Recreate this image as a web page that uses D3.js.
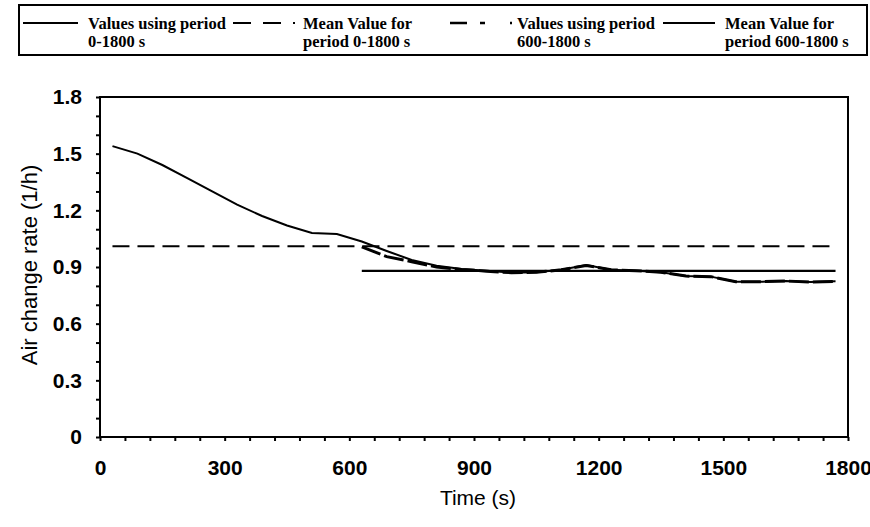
<!DOCTYPE html>
<html>
<head>
<meta charset="utf-8">
<script src="https://cdn.jsdelivr.net/npm/d3@7"></script>
<style>
  body { margin: 0; background: #fff; }
  svg { display: block; }
</style>
</head>
<body>
<div id="chart"></div>
<script>
// time (s) of each sample
var times = [30, 90, 150, 210, 270, 330, 390, 450, 510, 570, 630, 690, 750, 810, 870,
  930, 990, 1050, 1110, 1170, 1230, 1290, 1350, 1410, 1470, 1530, 1590, 1650, 1710, 1770];
// air change rate using period 0-1800 s
var valuesAll = [1.54, 1.50, 1.44, 1.37, 1.30, 1.23, 1.17, 1.12, 1.08, 1.075, 1.035, 0.985,
  0.937, 0.907, 0.89, 0.88, 0.87, 0.872, 0.885, 0.91, 0.885, 0.88, 0.872, 0.852, 0.849,
  0.822, 0.822, 0.826, 0.82, 0.824];

// air change rate using period 600-1800 s
var times600 = [630, 690, 750, 810, 870, 930, 990, 1050, 1110, 1170, 1230, 1290, 1350,
  1410, 1470, 1530, 1590, 1650, 1710, 1770];
var values600 = [1.007, 0.955, 0.928, 0.90, 0.887, 0.878, 0.87, 0.872, 0.885, 0.908, 0.885,
  0.88, 0.872, 0.852, 0.849, 0.822, 0.822, 0.826, 0.82, 0.824];

// mean values
var meanAll = 1.01, meanAllRange = [30, 1770];
var mean600 = 0.88, mean600Range = [630, 1770];

// axis ticks
var xTicks = [0, 300, 600, 900, 1200, 1500, 1800];
var xTickLabels = ["0", "300", "600", "900", "1200", "1500", "1800"];
var yTicks = [0, 0.3, 0.6, 0.9, 1.2, 1.5, 1.8];
var yTickLabels = ["0", "0.3", "0.6", "0.9", "1.2", "1.5", "1.8"];

// legend
var legendLine1 = ["Values using period", "Mean Value for", "Values using period", "Mean Value for"];
var legendLine2 = ["0-1800 s", "period 0-1800 s", "600-1800 s", "period 600-1800 s"];

var W = 870, H = 527;
var svg = d3.select("#chart").append("svg").attr("width", W).attr("height", H);

// plot area
var pLeft = 100, pRight = 848, pTop = 97, pBottom = 437;
var x = d3.scaleLinear().domain([0, 1800]).range([pLeft, pRight]);
var y = d3.scaleLinear().domain([0, 1.8]).range([pBottom, pTop]);

var tickFont = "'Liberation Sans', Arial, sans-serif";

//minor ticks
svg.append("g")
  .attr("transform", "translate(" + pLeft + ",0)")
  .call(d3.axisLeft(y).tickValues(d3.range(0, 1.85, 0.1)).tickSize(4).tickFormat(""))
  .call(g => g.select(".domain").remove())
  .selectAll("line").attr("stroke", "#000").attr("stroke-width", 2);

svg.append("g")
  .attr("transform", "translate(0," + pBottom + ")")
  .call(d3.axisBottom(x).tickValues(d3.range(0, 1801, 60)).tickSize(4).tickFormat(""))
  .call(g => g.select(".domain").remove())
  .selectAll("line").attr("stroke", "#000").attr("stroke-width", 2);

//major tick labels
var yAxis = svg.append("g")
  .attr("transform", "translate(" + pLeft + ",0)")
  .call(d3.axisLeft(y).tickValues(yTicks).tickSize(0).tickPadding(18)
    .tickFormat((d, i) => yTickLabels[i]));
yAxis.select(".domain").remove();
yAxis.selectAll("text")
  .attr("font-family", tickFont).attr("font-weight", "bold").attr("font-size", 21)
  .attr("fill", "#000");

var xAxis = svg.append("g")
  .attr("transform", "translate(0," + pBottom + ")")
  .call(d3.axisBottom(x).tickValues(xTicks).tickSize(0).tickPadding(23)
    .tickFormat((d, i) => xTickLabels[i]));
xAxis.select(".domain").remove();
xAxis.selectAll("text")
  .attr("font-family", tickFont).attr("font-weight", "bold").attr("font-size", 21)
  .attr("fill", "#000");

// frame
svg.append("rect")
  .attr("x", pLeft).attr("y", pTop)
  .attr("width", pRight - pLeft).attr("height", pBottom - pTop)
  .attr("fill", "none").attr("stroke", "#000").attr("stroke-width", 2);

// axis titles
var titleFont = "'Liberation Sans', Arial, sans-serif";
svg.append("text")
  .attr("transform", "translate(37,265) rotate(-90)")
  .attr("text-anchor", "middle")
  .attr("font-family", titleFont).attr("font-size", 22)
  .text("Air change rate (1/h)");
svg.append("text")
  .attr("x", 478).attr("y", 505)
  .attr("text-anchor", "middle")
  .attr("font-family", titleFont).attr("font-size", 21)
  .text("Time (s)");

// lines
var line = d3.line().x(d => x(d[0])).y(d => y(d[1]));

svg.append("path")
  .datum([[meanAllRange[0], meanAll], [meanAllRange[1], meanAll]])
  .attr("d", line).attr("fill", "none").attr("stroke", "#000")
  .attr("stroke-width", 2).attr("stroke-dasharray", "17,8");

svg.append("path")
  .datum([[mean600Range[0], mean600], [mean600Range[1], mean600]])
  .attr("d", line).attr("fill", "none").attr("stroke", "#000")
  .attr("stroke-width", 2.2);

svg.append("path")
  .datum(times.map((t, i) => [t, valuesAll[i]]))
  .attr("d", line).attr("fill", "none").attr("stroke", "#000")
  .attr("stroke-width", 2);

svg.append("path")
  .datum(times600.map((t, i) => [t, values600[i]]))
  .attr("d", line).attr("fill", "none").attr("stroke", "#000")
  .attr("stroke-width", 3).attr("stroke-dasharray", "20,4");

// legend
svg.append("rect")
  .attr("x", 19).attr("y", 5).attr("width", 848).attr("height", 50)
  .attr("fill", "#fff").attr("stroke", "#000").attr("stroke-width", 2);

var legendSamples = [
  { x1: 23, x2: 78, dash: null, w: 2 },
  { x1: 233, x2: 295, dash: "18,12", w: 2 },
  { x1: 450, x2: 512, dash: "17,13,5,25,2,100", w: 2.5 },
  { x1: 663, x2: 715, dash: null, w: 2 }
];
var legendTextX = [88, 303, 517, 725];
var legendFont = "'Liberation Serif', 'Times New Roman', serif";

legendSamples.forEach(function(s, i){
  svg.append("line")
    .attr("x1", s.x1).attr("x2", s.x2).attr("y1", 23).attr("y2", 23)
    .attr("stroke", "#000").attr("stroke-width", s.w)
    .attr("stroke-dasharray", s.dash);
  var t = svg.append("text")
    .attr("font-family", legendFont).attr("font-weight", "bold").attr("font-size", 16.5);
  t.append("tspan").attr("x", legendTextX[i]).attr("y", 29).text(legendLine1[i]);
  t.append("tspan").attr("x", legendTextX[i]).attr("y", 47).text(legendLine2[i]);
});
</script>
</body>
</html>
